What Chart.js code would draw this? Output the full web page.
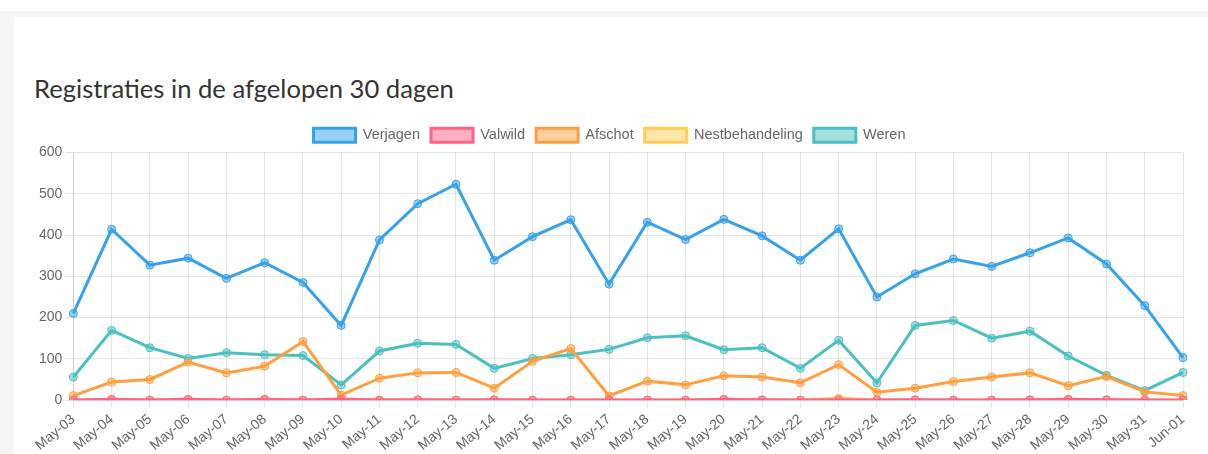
<!DOCTYPE html>
<html>
<head>
<meta charset="utf-8">
<script src="https://cdn.jsdelivr.net/npm/chart.js@4.4.1/dist/chart.umd.min.js"></script>
<style>
  html, body { margin: 0; padding: 0; background: #fff; overflow: hidden; }
  .page { position: absolute; left: 0; top: 11px; width: 1208px; height: 443px; background: #f5f5f5; overflow: hidden; }
  .card { position: absolute; left: 14px; top: 6px; width: 1194px; height: 450px; background: #fff; }
  h3 { position: absolute; left: 20px; top: 56px; margin: 0; font-family: Lato, sans-serif; font-weight: 400; font-size: 25.6px; color: #333; }
  .chartbox { position: absolute; left: 6px; top: 100px; width: 1188px; height: 340px; }
</style>
</head>
<body>
<div class="page">
  <div class="card">
    <h3>Registraties in de afgelopen 30 dagen</h3>
    <div class="chartbox"><canvas id="myChart"></canvas></div>
  </div>
</div>
<script>
// dagen
var labels = ['May-03', 'May-04', 'May-05', 'May-06', 'May-07', 'May-08', 'May-09', 'May-10', 'May-11', 'May-12',
              'May-13', 'May-14', 'May-15', 'May-16', 'May-17', 'May-18', 'May-19', 'May-20', 'May-21', 'May-22',
              'May-23', 'May-24', 'May-25', 'May-26', 'May-27', 'May-28', 'May-29', 'May-30', 'May-31', 'Jun-01'];

// registraties per soort
var verjagen = [210, 414, 327, 344, 295, 333, 285, 181, 388, 476,
                523, 339, 396, 437, 281, 431, 389, 438, 398, 339,
                415, 250, 306, 342, 324, 357, 393, 330, 229, 103];
var valwild = [0, 2, 0, 2, 0, 2, 0, 3, 0, 1,
               0, 1, 0, 0, 0, 0, 0, 2, 1, 0,
               1, 0, 1, 0, 0, 1, 2, 1, 0, 0];
var afschot = [11, 44, 50, 92, 66, 82, 142, 12, 53, 66,
               67, 29, 94, 125, 10, 46, 37, 59, 56, 42,
               86, 19, 29, 45, 56, 66, 35, 57, 20, 11];
var nestbehandeling = [0, 0, 0, 0, 0, 0, 0, 0, 0, 0,
                       0, 0, 0, 0, 0, 0, 0, 0, 0, 0,
                       5, 0, 0, 0, 0, 0, 0, 0, 0, 0];
var weren = [56, 169, 127, 101, 115, 110, 108, 37, 119, 138,
             135, 77, 101, 110, 123, 151, 156, 122, 127, 77,
             145, 42, 181, 193, 150, 167, 107, 60, 23, 67];

var yTicks = [0, 100, 200, 300, 400, 500, 600];

function lijn(label, data, rgb) {
    return {
        label: label,
        data: data,
        borderColor: 'rgb(' + rgb + ')',
        backgroundColor: 'rgba(' + rgb + ', 0.5)',
        borderWidth: 3,
        pointRadius: 4,
        pointBorderWidth: 1,
        pointBackgroundColor: 'rgba(' + rgb + ', 0.5)',
        pointBorderColor: 'rgb(' + rgb + ')',
        tension: 0,
        fill: false
    };
}

Chart.defaults.font.family = '"Liberation Sans", Arial, sans-serif';
Chart.defaults.font.size = 14;
Chart.defaults.color = '#666';

var chartArea = document.getElementById('myChart').getContext('2d');
var myChart = new Chart(chartArea, {
    type: 'line',
    data: {
        labels: labels,
        datasets: [
            lijn('Verjagen', verjagen, '54, 162, 235'),
            lijn('Valwild', valwild, '255, 99, 132'),
            lijn('Afschot', afschot, '255, 159, 64'),
            lijn('Nestbehandeling', nestbehandeling, '255, 205, 86'),
            lijn('Weren', weren, '75, 192, 192')
        ]
    },
    options: {
        responsive: true,
        maintainAspectRatio: false,
        animation: false,
        layout: { padding: { left: 16, right: 25, top: 0, bottom: 0 } },
        plugins: {
            legend: {
                labels: { boxWidth: 42, boxHeight: 14, padding: 11, font: { size: 14.5 } }
            },
            tooltip: { enabled: false }
        },
        scales: {
            x: {
                grid: { color: 'rgba(0,0,0,0.1)' },
                ticks: { maxRotation: 40, minRotation: 40, autoSkip: false }
            },
            y: {
                min: 0,
                max: 600,
                afterBuildTicks: function (axis) {
                    axis.ticks = yTicks.map(function (v) { return { value: v }; });
                },
                grid: { color: 'rgba(0,0,0,0.1)' }
            }
        }
    }
});
</script>
</body>
</html>
